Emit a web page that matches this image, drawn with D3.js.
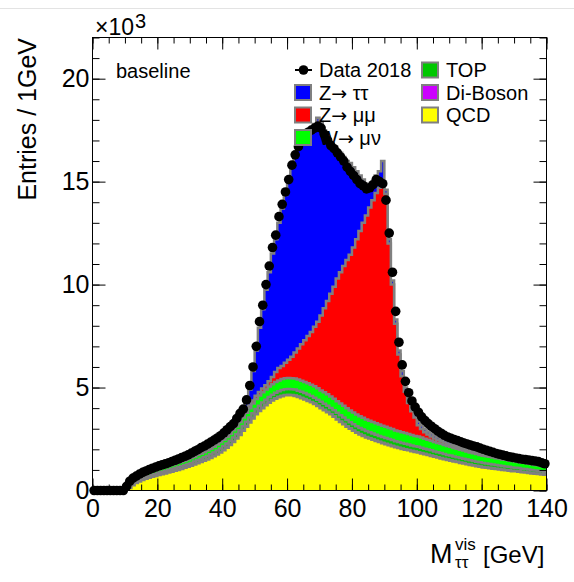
<!DOCTYPE html>
<html>
<head>
<meta charset="utf-8">
<script src="https://cdn.jsdelivr.net/npm/d3@7"></script>
<style>
  html, body { margin: 0; padding: 0; background: #fff; }
  svg { display: block; font-family: "Liberation Sans", Arial, Helvetica, sans-serif; }
</style>
</head>
<body>
<svg id="chart" width="574" height="582"></svg>
<script>
// ---- data (units of 10^3 entries per 1 GeV bin, bins 0..139 GeV) ----
const dataK = [
0,0,0,0,0,0,0,0,0,0,
0.2,0.45,0.6,0.7,0.8,0.88,0.95,1.02,1.08,1.14,
1.2,1.25,1.3,1.35,1.41,1.47,1.53,1.6,1.66,1.73,
1.82,1.9,1.98,2.08,2.16,2.25,2.35,2.45,2.55,2.66,
2.8,2.95,3.1,3.25,3.5,3.75,3.95,4.4,5.1,6.0,
7.0,8.2,9.0,10.0,10.9,11.8,12.4,13.3,13.9,14.5,
15.1,15.8,16.3,16.7,17.0,17.2,17.4,17.5,17.6,17.7,
17.6,17.3,17.0,16.75,16.6,16.4,16.2,16.0,15.7,15.5,
15.3,15.1,14.9,14.8,14.65,14.7,14.85,15.1,15.0,14.9,
14.1,12.5,10.6,8.7,7.2,6.1,5.3,4.75,4.35,4.05,
3.8,3.58,3.4,3.25,3.12,3.0,2.88,2.78,2.68,2.6,
2.54,2.48,2.43,2.37,2.31,2.26,2.21,2.16,2.12,2.06,
2.0,1.95,1.9,1.85,1.8,1.76,1.72,1.68,1.64,1.61,
1.58,1.55,1.52,1.5,1.48,1.45,1.43,1.4,1.35,1.3];

const qcdK = [
0,0,0,0,0,0,0,0,0,0,
0.02,0.12,0.25,0.36,0.44,0.51,0.57,0.62,0.67,0.71,
0.75,0.79,0.83,0.87,0.91,0.96,1.0,1.05,1.1,1.15,
1.2,1.26,1.32,1.38,1.44,1.51,1.58,1.66,1.75,1.85,
1.96,2.08,2.21,2.36,2.52,2.7,2.9,3.1,3.3,3.5,
3.7,3.86,4.0,4.14,4.26,4.37,4.46,4.53,4.58,4.62,
4.63,4.62,4.59,4.54,4.48,4.42,4.35,4.28,4.2,4.1,
4.0,3.9,3.8,3.7,3.58,3.45,3.33,3.22,3.1,3.0,
2.9,2.8,2.72,2.65,2.58,2.52,2.46,2.4,2.35,2.3,
2.25,2.2,2.15,2.1,2.06,2.02,1.98,1.95,1.91,1.87,
1.84,1.8,1.76,1.72,1.68,1.64,1.6,1.56,1.52,1.48,
1.45,1.41,1.38,1.34,1.31,1.27,1.24,1.21,1.18,1.15,
1.12,1.1,1.08,1.06,1.04,1.02,1.0,0.98,0.96,0.94,
0.93,0.91,0.89,0.87,0.85,0.83,0.81,0.8,0.78,0.76];

const dibosonK = [
0,0,0,0,0,0,0,0,0,0,
0.005,0.005,0.005,0.005,0.005,0.006,0.006,0.006,0.007,0.007,
0.008,0.01,0.01,0.01,0.01,0.01,0.01,0.01,0.01,0.01,
0.01,0.02,0.02,0.02,0.02,0.02,0.02,0.02,0.02,0.02,
0.02,0.02,0.02,0.02,0.02,0.02,0.02,0.02,0.02,0.02,
0.02,0.02,0.02,0.02,0.02,0.02,0.02,0.02,0.02,0.02,
0.02,0.02,0.02,0.02,0.02,0.02,0.02,0.02,0.02,0.02,
0.02,0.02,0.02,0.02,0.02,0.02,0.02,0.02,0.02,0.02,
0.02,0.02,0.02,0.02,0.02,0.02,0.02,0.02,0.02,0.02,
0.02,0.02,0.02,0.02,0.02,0.02,0.02,0.02,0.02,0.02,
0.02,0.02,0.02,0.02,0.02,0.02,0.02,0.02,0.02,0.02,
0.02,0.02,0.02,0.02,0.02,0.02,0.02,0.02,0.02,0.02,
0.02,0.02,0.02,0.02,0.02,0.02,0.02,0.02,0.02,0.02,
0.02,0.02,0.02,0.02,0.02,0.02,0.02,0.02,0.02,0.02];

const topK = [
0,0,0,0,0,0,0,0,0,0,
0.02,0.04,0.05,0.06,0.07,0.07,0.08,0.08,0.09,0.09,
0.1,0.1,0.1,0.11,0.11,0.11,0.12,0.12,0.12,0.13,
0.13,0.13,0.14,0.14,0.15,0.15,0.16,0.16,0.17,0.17,
0.18,0.18,0.19,0.2,0.2,0.21,0.21,0.22,0.22,0.23,
0.24,0.24,0.25,0.25,0.26,0.26,0.27,0.27,0.28,0.28,
0.28,0.28,0.29,0.29,0.29,0.29,0.29,0.29,0.29,0.29,
0.29,0.29,0.29,0.29,0.3,0.3,0.3,0.3,0.3,0.3,
0.3,0.3,0.3,0.29,0.29,0.29,0.29,0.29,0.28,0.28,
0.28,0.28,0.28,0.27,0.27,0.27,0.27,0.27,0.26,0.26,
0.26,0.26,0.25,0.25,0.25,0.24,0.24,0.24,0.23,0.23,
0.23,0.22,0.22,0.22,0.21,0.21,0.21,0.2,0.2,0.2,
0.19,0.19,0.19,0.18,0.18,0.18,0.17,0.17,0.17,0.16,
0.16,0.16,0.15,0.15,0.15,0.14,0.14,0.14,0.13,0.13];

const wmunuK = [
0,0,0,0,0,0,0,0,0,0,
0.04,0.08,0.1,0.12,0.13,0.14,0.15,0.16,0.16,0.17,
0.18,0.18,0.19,0.19,0.2,0.2,0.21,0.21,0.22,0.22,
0.23,0.23,0.24,0.25,0.25,0.26,0.27,0.28,0.29,0.3,
0.31,0.32,0.33,0.35,0.37,0.39,0.41,0.43,0.45,0.47,
0.48,0.49,0.5,0.5,0.51,0.51,0.52,0.52,0.53,0.53,
0.53,0.53,0.54,0.54,0.54,0.54,0.55,0.55,0.55,0.55,
0.55,0.56,0.56,0.56,0.56,0.57,0.57,0.57,0.57,0.57,
0.57,0.57,0.57,0.57,0.56,0.56,0.56,0.56,0.55,0.55,
0.55,0.54,0.54,0.53,0.53,0.52,0.52,0.51,0.51,0.5,
0.5,0.49,0.48,0.48,0.47,0.46,0.45,0.45,0.44,0.43,
0.42,0.42,0.41,0.4,0.4,0.39,0.38,0.38,0.37,0.36,
0.36,0.35,0.35,0.34,0.33,0.33,0.32,0.32,0.31,0.31,
0.3,0.3,0.29,0.29,0.28,0.28,0.27,0.27,0.26,0.26];

const zmumuK = [
0,0,0,0,0,0,0,0,0,0,
0.01,0.02,0.02,0.03,0.03,0.03,0.03,0.04,0.04,0.04,
0.04,0.04,0.04,0.04,0.05,0.05,0.05,0.05,0.05,0.05,
0.05,0.05,0.05,0.06,0.06,0.06,0.06,0.06,0.07,0.07,
0.07,0.08,0.08,0.09,0.1,0.11,0.12,0.13,0.14,0.15,
0.16,0.17,0.18,0.2,0.25,0.35,0.48,0.61,0.64,0.75,
0.89,1.05,1.26,1.51,1.77,2.03,2.29,2.56,2.89,3.24,
3.64,4.08,4.53,4.98,5.44,5.96,6.38,6.79,7.21,7.56,
8.01,8.51,8.99,9.47,9.9,10.36,10.77,11.18,11.5,11.7,
11.3,8.96,7.01,5.18,3.72,2.72,2.01,1.5,1.15,0.9,
0.55,0.42,0.32,0.25,0.2,0.17,0.15,0.13,0.12,0.11,
0.1,0.09,0.08,0.08,0.07,0.07,0.06,0.06,0.06,0.06,
0.06,0.05,0.05,0.05,0.05,0.05,0.05,0.05,0.05,0.05,
0.05,0.04,0.04,0.04,0.04,0.04,0.03,0.03,0.03,0.03];

const ztautauK = [
0,0,0,0,0,0,0,0,0,0,
0.08,0.15,0.14,0.1,0.1,0.1,0.1,0.1,0.1,0.1,
0.1,0.11,0.11,0.11,0.11,0.12,0.12,0.13,0.13,0.14,
0.15,0.16,0.17,0.18,0.19,0.2,0.21,0.22,0.22,0.23,
0.2,0.21,0.22,0.23,0.24,0.26,0.2,0.35,0.77,1.43,
2.2,3.12,3.85,4.64,5.3,6.0,6.45,7.05,7.65,8.15,
8.65,9.2,9.55,9.8,9.9,9.9,9.85,9.8,9.85,9.9,
9.4,8.65,8.0,7.35,6.8,6.2,5.8,5.3,4.8,4.45,
3.9,3.3,2.7,2.1,1.55,1.05,0.9,0.85,0.8,1.15,
0.2,0.2,0.2,0.2,0.2,0.25,0.2,0.2,0.2,0.2,
0.18,0.17,0.16,0.15,0.15,0.14,0.14,0.13,0.13,0.12,
0.12,0.11,0.11,0.11,0.1,0.1,0.1,0.09,0.09,0.09,
0.08,0.08,0.08,0.08,0.07,0.07,0.07,0.07,0.06,0.06,
0.06,0.06,0.05,0.05,0.05,0.05,0.05,0.04,0.04,0.04];

const xTicksMajor = [0, 20, 40, 60, 80, 100, 120, 140];
const yTicksMajor = [0, 5, 10, 15, 20];
const seriesNames = ["QCD", "Di-Boson", "TOP", "W\u2192 \u03bc\u03bd", "Z\u2192 \u03bc\u03bc", "Z\u2192 \u03c4\u03c4"];
const seriesColors = ["#ffff00", "#cc00ff", "#00c800", "#00ff00", "#ff0000", "#0000ff"];

// ---- drawing ----
(function draw() {
const svg = d3.select("#chart");
const W = 574, H = 582;
const pL = 92.5, pR = 546.5, pT = 37.5, pB = 490.5;
const x = d3.scaleLinear().domain([0, 140]).range([pL, pR]);
const y = d3.scaleLinear().domain([0, 22]).range([pB, pT]);

svg.append("rect").attr("width", W).attr("height", H).attr("fill", "#fff");
svg.append("line").attr("x1", 0).attr("x2", W).attr("y1", 8.5).attr("y2", 8.5)
  .attr("stroke", "#e3e3e3").attr("stroke-width", 1);

svg.append("clipPath").attr("id", "frameclip")
  .append("rect").attr("x", pL).attr("y", pT).attr("width", pR - pL).attr("height", pB - pT);

const seriesArrays = [qcdK, dibosonK, topK, wmunuK, zmumuK, ztautauK];
const rows = d3.range(140).map(i => {
  const r = { bin: i };
  seriesNames.forEach((n, k) => { r[n] = seriesArrays[k][i]; });
  return r;
});
const stacked = d3.stack().keys(seriesNames)(rows);

const g = svg.append("g").attr("clip-path", "url(#frameclip)");
const area = d3.area().curve(d3.curveStepAfter)
  .x(d => x(d[0])).y0(y(0)).y1(d => y(d[1]));
const line = d3.line().curve(d3.curveStepAfter)
  .x(d => x(d[0])).y(d => y(d[1]));

for (let k = stacked.length - 1; k >= 0; k--) {
  const s = stacked[k];
  const pts = s.map((d, i) => [i, d[1]]);
  pts.push([140, s[139][1]]);
  g.append("path").attr("d", area(pts)).attr("fill", seriesColors[k]);
  g.append("path").attr("d", line(pts)).attr("fill", "none")
    .attr("stroke", "#808080").attr("stroke-width", 2.5);
}

svg.append("g").selectAll("circle").data(dataK).join("circle")
  .attr("cx", (d, i) => x(i + 0.5)).attr("cy", d => y(d))
  .attr("r", 4.8).attr("fill", "#000");

const fmt = d => d3.format("d")(d);
svg.append("g").attr("transform", `translate(0,${pB})`)
  .call(d3.axisBottom(x).tickValues(xTicksMajor).tickSize(-12).tickPadding(9).tickFormat(fmt));
svg.append("g").attr("transform", `translate(0,${pB})`)
  .call(d3.axisBottom(x).tickValues(d3.range(0, 141, 5)).tickSize(-6).tickFormat(""));
svg.append("g").attr("transform", `translate(0,${pT})`)
  .call(d3.axisTop(x).tickValues(xTicksMajor).tickSize(-12).tickFormat(""));
svg.append("g").attr("transform", `translate(0,${pT})`)
  .call(d3.axisTop(x).tickValues(d3.range(0, 141, 5)).tickSize(-6).tickFormat(""));
svg.append("g").attr("transform", `translate(${pL},0)`)
  .call(d3.axisLeft(y).tickValues(yTicksMajor).tickSize(-13).tickPadding(3).tickFormat(fmt));
svg.append("g").attr("transform", `translate(${pL},0)`)
  .call(d3.axisLeft(y).tickValues(d3.range(0, 23, 1)).tickSize(-7).tickFormat(""));
svg.append("g").attr("transform", `translate(${pR},0)`)
  .call(d3.axisRight(y).tickValues(yTicksMajor).tickSize(-13).tickFormat(""));
svg.append("g").attr("transform", `translate(${pR},0)`)
  .call(d3.axisRight(y).tickValues(d3.range(0, 23, 1)).tickSize(-7).tickFormat(""));
svg.selectAll(".domain").remove();
svg.selectAll(".tick line").attr("stroke", "#000").attr("stroke-width", 1);
svg.selectAll(".tick text").attr("fill", "#000")
  .style("font-family", '"Liberation Sans", Arial, sans-serif').style("font-size", "25px");

svg.append("rect").attr("x", pL).attr("y", pT).attr("width", pR - pL).attr("height", pB - pT)
  .attr("fill", "none").attr("stroke", "#000").attr("stroke-width", 1);

svg.append("text").attr("x", 95).attr("y", 34.5).attr("font-size", 23).text("\u00d710");
svg.append("text").attr("x", 135).attr("y", 28).attr("font-size", 20).text("3");

svg.append("text").attr("transform", "translate(36,38) rotate(-90)")
  .attr("text-anchor", "end").attr("font-size", 25).text("Entries / 1GeV");
svg.append("text").attr("x", 430).attr("y", 563).attr("font-size", 27).text("M");
svg.append("text").attr("x", 455).attr("y", 550).attr("font-size", 17).text("vis");
svg.append("text").attr("x", 455).attr("y", 568).attr("font-size", 17).text("\u03c4\u03c4");
svg.append("text").attr("x", 483).attr("y", 563).attr("font-size", 24).text("[GeV]");

svg.append("text").attr("x", 116).attr("y", 78).attr("font-size", 20).text("baseline");

// legend
const leg = svg.append("g").style("font-size", "20px");
const rowY = [70, 92.5, 115, 137.5];
leg.append("line").attr("x1", 295).attr("x2", 312).attr("y1", rowY[0]).attr("y2", rowY[0])
  .attr("stroke", "#000").attr("stroke-width", 2);
leg.append("circle").attr("cx", 303.5).attr("cy", rowY[0]).attr("r", 4.8).attr("fill", "#000");
leg.append("text").attr("x", 319).attr("y", rowY[0] + 7).text("Data 2018");
const legendEntries = [
  { k: 5, col: 0, row: 1 }, { k: 4, col: 0, row: 2 }, { k: 3, col: 0, row: 3 },
  { k: 2, col: 1, row: 0 }, { k: 1, col: 1, row: 1 }, { k: 0, col: 1, row: 2 }
];
const colX = [295, 422];
const colTextX = [319, 446];
legendEntries.forEach(e => {
  leg.append("rect").attr("x", colX[e.col]).attr("y", rowY[e.row] - 7.5)
    .attr("width", 16).attr("height", 15).attr("fill", seriesColors[e.k])
    .attr("stroke", "#808080").attr("stroke-width", 2);
  const t = leg.append("text").attr("x", colTextX[e.col]).attr("y", rowY[e.row] + 7);
  const name = seriesNames[e.k];
  const ai = name.indexOf("\u2192");
  if (ai < 0) { t.text(name); }
  else {
    t.append("tspan").text(name.slice(0, ai));
    t.append("tspan").style("font-family", '"DejaVu Sans", sans-serif').style("font-size", "19px").text("\u2192");
    t.append("tspan").text(name.slice(ai + 1));
  }
});
})();
</script>
</body>
</html>
